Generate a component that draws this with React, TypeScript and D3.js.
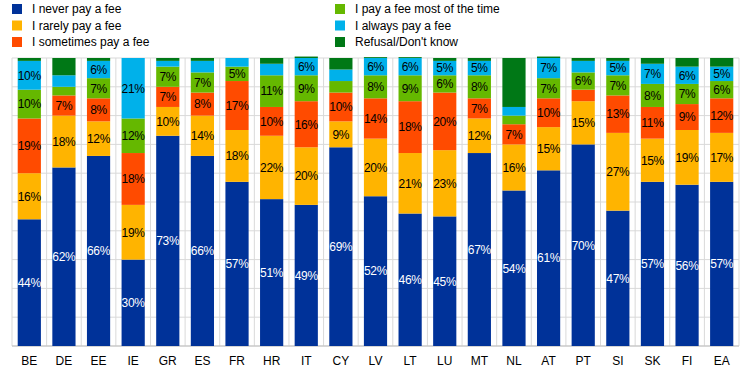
import React, { useEffect, useRef } from 'react';
import * as d3 from 'd3';

const width = 745;
const height = 373;
const margin = { top: 58, right: 6, bottom: 27, left: 12 };

const countries = ['BE', 'DE', 'EE', 'IE', 'GR', 'ES', 'FR', 'HR', 'IT', 'CY', 'LV', 'LT', 'LU', 'MT', 'NL', 'AT', 'PT', 'SI', 'SK', 'FI', 'EA'];

// stacked from the bottom up
const never = [44, 62, 66, 30, 73, 66, 57, 51, 49, 69, 52, 46, 45, 67, 54, 61, 70, 47, 57, 56, 57];
const rarely = [16, 18, 12, 19, 10, 14, 18, 22, 20, 9, 20, 21, 23, 12, 16, 15, 15, 27, 15, 19, 17];
const sometimes = [19, 7, 8, 18, 7, 8, 17, 10, 16, 10, 14, 18, 20, 7, 7, 10, 4, 13, 11, 9, 12];
const mostOfTime = [10, 3, 7, 12, 7, 7, 5, 11, 9, 4, 8, 9, 6, 8, 3, 7, 6, 7, 8, 7, 6];
const always = [10, 4, 6, 21, 2, 4, 3, 4, 6, 4, 6, 6, 5, 5, 3, 7, 4, 5, 7, 6, 5];
const refusal = [1, 6, 1, 0, 1, 1, 0, 2, 0.5, 4, 0.3, 0.3, 1, 1, 17, 0.5, 1, 1, 2, 3, 3];

const series = [
    { key: 'never', label: 'I never pay a fee', values: never, color: '#003299', text: '#ffffff', labelled: true },
    { key: 'rarely', label: 'I rarely pay a fee', values: rarely, color: '#FFB400', text: '#000000', labelled: true },
    { key: 'sometimes', label: 'I sometimes pay a fee', values: sometimes, color: '#FF4B00', text: '#000000', labelled: true },
    { key: 'most', label: 'I pay a fee most of the time', values: mostOfTime, color: '#65B800', text: '#000000', labelled: true },
    { key: 'always', label: 'I always pay a fee', values: always, color: '#00B1EA', text: '#000000', labelled: true },
    { key: 'refusal', label: "Refusal/Don't know", values: refusal, color: '#007816', text: '#ffffff', labelled: false },
];

const legendOrder = ['never', 'most', 'rarely', 'always', 'sometimes', 'refusal'];

export default function App() {
    const ref = useRef<SVGSVGElement>(null);

    useEffect(() => {
        const svg = d3.select(ref.current);
        svg.selectAll('*').remove();

        const rows = countries.map((c, i) => {
            const row: any = { country: c };
            series.forEach((s) => { row[s.key] = s.values[i]; });
            return row;
        });

        const x = d3
            .scaleBand()
            .domain(countries)
            .range([margin.left, width - margin.right])
            .paddingInner(0.33)
            .paddingOuter(0.165);

        const y = d3
            .scaleLinear()
            .domain([0, 100])
            .range([height - margin.bottom, margin.top]);

        const g = svg.append('g');

        // grid
        g.selectAll('.hgrid')
            .data(d3.range(10, 101, 10))
            .enter()
            .append('line')
            .attr('x1', margin.left)
            .attr('x2', width - margin.right)
            .attr('y1', (d) => y(d))
            .attr('y2', (d) => y(d))
            .attr('stroke', '#d9d9d9')
            .attr('stroke-width', 1);

        const step = x.step();
        const x0 = x.range()[0];
        g.selectAll('.vgrid')
            .data(d3.range(0, countries.length + 1))
            .enter()
            .append('line')
            .attr('x1', (d) => x0 + d * step)
            .attr('x2', (d) => x0 + d * step)
            .attr('y1', margin.top)
            .attr('y2', height - margin.bottom)
            .attr('stroke', '#d9d9d9')
            .attr('stroke-width', 1);

        g.append('line')
            .attr('x1', margin.left)
            .attr('x2', width - margin.right)
            .attr('y1', y(0))
            .attr('y2', y(0))
            .attr('stroke', '#c8c8c8')
            .attr('stroke-width', 1.5);

        const stack = d3.stack().keys(series.map((s) => s.key));
        const layers = stack(rows);

        layers.forEach((layer, li) => {
            const s = series[li];
            const lg = g.append('g');
            lg.selectAll('rect')
                .data(layer)
                .enter()
                .append('rect')
                .attr('x', (d: any) => x(d.data.country)!)
                .attr('width', x.bandwidth())
                .attr('y', (d) => y(d[1]))
                .attr('height', (d) => y(d[0]) - y(d[1]))
                .attr('fill', s.color);

            if (!s.labelled) return;
            lg.selectAll('text')
                .data(layer.filter((d) => d[1] - d[0] >= 5))
                .enter()
                .append('text')
                .attr('x', (d: any) => x(d.data.country)! + x.bandwidth() / 2)
                .attr('y', (d) => y((d[0] + d[1]) / 2))
                .attr('dy', '0.36em')
                .attr('text-anchor', 'middle')
                .attr('fill', s.text)
                .style('font-family', 'Arial, "Liberation Sans", sans-serif')
                .style('font-size', '12px')
                .style('letter-spacing', '-0.3px')
                .text((d) => `${Math.round(d[1] - d[0])}%`);
        });

        // x axis labels
        g.selectAll('.xlab')
            .data(countries)
            .enter()
            .append('text')
            .attr('x', (d) => x(d)! + x.bandwidth() / 2)
            .attr('y', height - margin.bottom + 15)
            .attr('dy', '0.36em')
            .attr('text-anchor', 'middle')
            .attr('fill', '#000000')
            .style('font-family', 'Arial, "Liberation Sans", sans-serif')
            .style('font-size', '12px')
            .text((d) => d);

        // legend
        const legend = g.append('g');
        legendOrder.forEach((k, i) => {
            const s = series.find((ss) => ss.key === k)!;
            const col = i % 2;
            const row = Math.floor(i / 2);
            const lx = col === 0 ? 12 : 335;
            const ly = 9 + row * 16.5;
            legend.append('rect')
                .attr('x', lx)
                .attr('y', ly - 5)
                .attr('width', 10)
                .attr('height', 10)
                .attr('fill', s.color);
            legend.append('text')
                .attr('x', lx + 20)
                .attr('y', ly)
                .attr('dy', '0.36em')
                .attr('fill', '#000000')
                .style('font-family', 'Arial, "Liberation Sans", sans-serif')
                .style('font-size', '12px')
                .text(s.label);
        });
    }, []);

    return (
        <svg
            ref={ref}
            width={width}
            height={height}
            style={{ position: 'absolute', left: 0, top: 0, background: '#ffffff' }}
        />
    );
}
